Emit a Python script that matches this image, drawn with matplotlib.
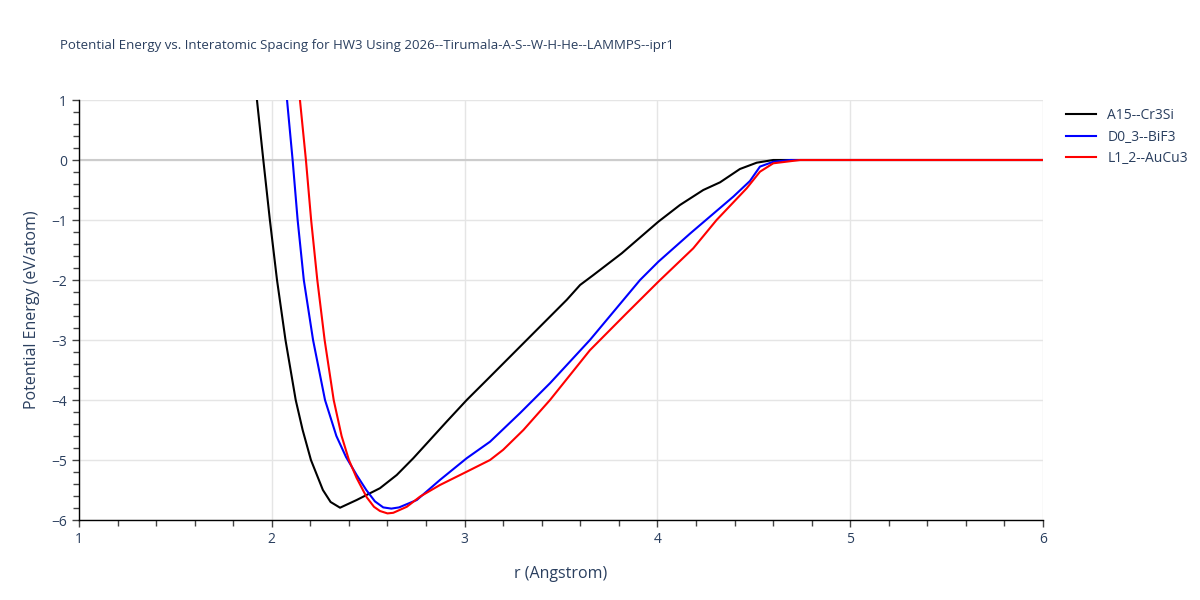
import numpy as np
import matplotlib
matplotlib.use('Agg')
import matplotlib.pyplot as plt
from matplotlib.ticker import MultipleLocator

plt.rcParams['font.family'] = ['Open Sans', 'DejaVu Sans']

# A15--Cr3Si
r_a15 = [1.910, 1.923, 1.956, 1.990, 2.027, 2.071, 2.124, 2.160, 2.203, 2.265,
         2.305, 2.354, 2.440, 2.561, 2.648, 2.734, 2.820, 2.907, 3.011, 3.115,
         3.322, 3.530, 3.599, 3.668, 3.815, 4.005, 4.117, 4.238, 4.325, 4.428, 4.515,
         4.601, 4.700, 4.800, 5.0, 5.5, 6.0]
e_a15 = [1.40, 1.0, 0.0, -1.0, -2.0, -3.0, -4.0, -4.5, -5.0, -5.5,
         -5.70, -5.795, -5.667, -5.47, -5.25, -4.97, -4.667, -4.36, -4.0, -3.667,
         -3.0, -2.33, -2.083, -1.917, -1.555, -1.028, -0.75, -0.50, -0.372, -0.15, -0.045,
         0.0, 0.0, 0.0, 0.0, 0.0, 0.0]

# D0_3--BiF3
r_d03 = [2.069, 2.079, 2.108, 2.134, 2.166, 2.214, 2.276, 2.335, 2.385, 2.440, 2.490,
         2.535, 2.578, 2.620, 2.660, 2.752, 2.872, 3.011, 3.132, 3.287, 3.443, 3.650,
         3.910, 4.005, 4.171, 4.394, 4.480, 4.532, 4.601, 4.690, 4.800, 5.0, 5.5, 6.0]
e_d03 = [1.35, 1.0, 0.0, -1.0, -2.0, -3.0, -4.0, -4.6, -4.95, -5.25, -5.5,
         -5.69, -5.79, -5.81, -5.79, -5.667, -5.333, -4.97, -4.695, -4.22, -3.72, -3.0,
         -2.0, -1.695, -1.222, -0.61, -0.35, -0.11, -0.03, 0.0, 0.0, 0.0, 0.0, 0.0]

# L1_2--AuCu3
r_l12 = [2.136, 2.146, 2.177, 2.204, 2.236, 2.274, 2.321, 2.362, 2.400, 2.440,
         2.492, 2.530, 2.561, 2.600, 2.630, 2.700, 2.769, 2.872, 3.011, 3.132,
         3.200, 3.305, 3.443, 3.650, 3.840, 4.005, 4.186, 4.307, 4.463, 4.532, 4.601,
         4.740, 4.850, 5.0, 5.5, 6.0]
e_l12 = [1.35, 1.0, 0.0, -1.0, -2.0, -3.0, -4.0, -4.6, -5.0, -5.3,
         -5.62, -5.78, -5.85, -5.89, -5.88, -5.78, -5.61, -5.417, -5.195, -5.0,
         -4.83, -4.50, -4.0, -3.17, -2.555, -2.028, -1.472, -1.0, -0.472, -0.195, -0.055,
         0.0, 0.0, 0.0, 0.0, 0.0]

labels = ['A15--Cr3Si', 'D0_3--BiF3', 'L1_2--AuCu3']
colors = ['black', 'blue', 'red']

fig = plt.figure(figsize=(12, 6), dpi=100)
ax = fig.add_axes([79/1200, 80/600, 964/1200, 420/600])

ax.axhline(0, color='#cccccc', lw=1.5, zorder=1)
for rr, ee, lab, col in zip([r_a15, r_d03, r_l12], [e_a15, e_d03, e_l12], labels, colors):
    ax.plot(rr, ee, color=col, lw=1.5, label=lab, zorder=3)

ax.set_xlim(1, 6)
ax.set_ylim(-6, 1)
ax.xaxis.set_major_locator(MultipleLocator(1))
ax.xaxis.set_minor_locator(MultipleLocator(0.2))
ax.yaxis.set_major_locator(MultipleLocator(1))
ax.yaxis.set_minor_locator(MultipleLocator(0.2))
ax.grid(True, which='major', color='#e5e5e5', lw=1, zorder=0)
ax.set_axisbelow(True)

for s in ['top', 'right']:
    ax.spines[s].set_visible(False)
for s in ['left', 'bottom']:
    ax.spines[s].set_color('black')
    ax.spines[s].set_linewidth(1)

ax.tick_params(which='major', direction='out', length=5, width=1, color='#444444',
               labelcolor='#2a3f5f', labelsize=10)
ax.tick_params(which='minor', direction='out', length=4, width=1, color='#444444')
ax.yaxis.set_major_formatter(plt.FuncFormatter(lambda v, p: f'{int(v)}'.replace('-', '\u2212')))

ax.set_xlabel('r (Angstrom)', color='#2a3f5f', fontsize=11.5, labelpad=14)
ax.set_ylabel('Potential Energy (eV/atom)', color='#2a3f5f', fontsize=11.5, labelpad=8)

fig.text(60/1200, 1 - 45/600, 'Potential Energy vs. Interatomic Spacing for HW3 Using 2026--Tirumala-A-S--W-H-He--LAMMPS--ipr1',
         color='#2a3f5f', fontsize=9.5, va='center', ha='left')

leg = ax.legend(loc='upper left', bbox_to_anchor=(1.015, 1.0), frameon=False,
                fontsize=10, handlelength=2.2, labelspacing=0.45, borderaxespad=0.2)
for t in leg.get_texts():
    t.set_color('#2a3f5f')

fig.savefig('out.png', dpi=100)
